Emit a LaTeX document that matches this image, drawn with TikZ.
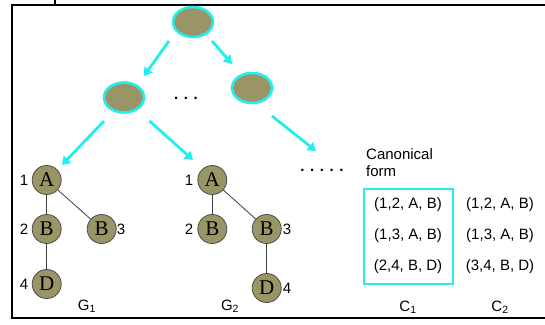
\documentclass[tikz,border=0pt]{standalone}
\usepackage{fontspec}
\setmainfont{Liberation Sans}
\newfontfamily\serifletters{Liberation Serif}
\usetikzlibrary{shapes.geometric,arrows.meta}
\definecolor{olive}{HTML}{9A9566}
\definecolor{aqua}{HTML}{22EEEE}
\newcommand{\dotgap}{\hspace{5.6pt}}
\tikzset{
  x=1pt, y=-1pt,
  treenode/.style={ellipse, minimum width=40, minimum height=30, fill=olive, draw=aqua, line width=2.6pt},
  vtx/.style={circle, minimum size=29, inner sep=0pt, fill=olive, draw=black!70, line width=0.8pt,
              font=\serifletters\fontsize{21}{21}\selectfont},
  idx/.style={font=\fontsize{15}{15}\selectfont, inner sep=0pt},
  dotrow/.style={font=\bfseries\fontsize{15}{15}\selectfont, inner sep=0pt, anchor=base},
  txt/.style={font=\fontsize{15}{17}\selectfont, inner sep=0pt},
  growarrow/.style={aqua, line width=2.8pt, -{Triangle[length=8pt,width=10pt]}},
  graphedge/.style={black!75, line width=0.8pt}
}
\begin{document}
\begin{tikzpicture}
\useasboundingbox (0,0) rectangle (545,324);
\fill[white] (0,0) rectangle (545,324);
% outer frame
\draw[line width=2.2pt] (560,5) -- (12,5) -- (12,318) -- (560,318);
\draw[line width=1.4pt] (55,0) -- (55,4);

% search tree
\node[treenode] (root) at (193,22) {};
\node[treenode] (left) at (124,97.5) {};
\node[treenode] (right) at (252,88) {};
\node[dotrow] (hdots) at (186,99) {.\dotgap.\dotgap.};

\coordinate (rl) at (144,76);
\coordinate (rr) at (232,64);
\coordinate (lg1) at (62,165);
\coordinate (lg2) at (193,160);
\coordinate (rg) at (316,151);
\coordinate (s1) at (169,41);
\coordinate (s2) at (212,41);
\coordinate (s3) at (104,121);
\coordinate (s4) at (149.5,121);
\coordinate (s5) at (272,116);
\draw[growarrow] (s1) -- (rl);
\draw[growarrow] (s2) -- (rr);
\draw[growarrow] (s3) -- (lg1);
\draw[growarrow] (s4) -- (lg2);
\draw[growarrow] (s5) -- (rg);

% graph G1
\node[vtx] (a1) at (46.7,180) {A};
\node[vtx] (b1) at (46.7,229) {B};
\node[vtx] (c1) at (101.7,229) {B};
\node[vtx] (d1) at (46.7,284) {D};
\draw[graphedge] (a1) -- (b1);
\draw[graphedge] (a1) -- (c1);
\draw[graphedge] (b1) -- (d1);
\node[idx] (n11) at (24,180) {1};
\node[idx] (n12) at (24,229) {2};
\node[idx] (n13) at (121,229) {3};
\node[idx] (n14) at (24,284) {4};
\node[txt] (g1) at (87,306) {G\textsubscript{1}};

% graph G2
\node[vtx] (a2) at (212.3,180) {A};
\node[vtx] (b2) at (212.3,229) {B};
\node[vtx] (c2) at (266.7,229) {B};
\node[vtx] (d2) at (266.7,288) {D};
\draw[graphedge] (a2) -- (b2);
\draw[graphedge] (a2) -- (c2);
\draw[graphedge] (c2) -- (d2);
\node[idx] (n21) at (189,180) {1};
\node[idx] (n22) at (189,229) {2};
\node[idx] (n23) at (287,229) {3};
\node[idx] (n24) at (287,288) {4};
\node[txt] (g2) at (230,306) {G\textsubscript{2}};

% canonical forms
\node[dotrow] (more) at (322,171.5) {.\dotgap.\dotgap.\dotgap.\dotgap.};
\node[txt, align=left, anchor=north west] (canon) at (366,148) {Canonical\\form};
\draw[aqua, line width=2.4pt] (364,189) rectangle (453,284);
\node[txt] (r11) at (408,205) {(1,2, A, B)};
\node[txt] (r12) at (408,236) {(1,3, A, B)};
\node[txt] (r13) at (408,267) {(2,4, B, D)};
\node[txt] (r21) at (500,205) {(1,2, A, B)};
\node[txt] (r22) at (500,236) {(1,3, A, B)};
\node[txt] (r23) at (500,267) {(3,4, B, D)};
\node[txt] (cl1) at (408,307) {C\textsubscript{1}};
\node[txt] (cl2) at (500,307) {C\textsubscript{2}};
\end{tikzpicture}
\end{document}
